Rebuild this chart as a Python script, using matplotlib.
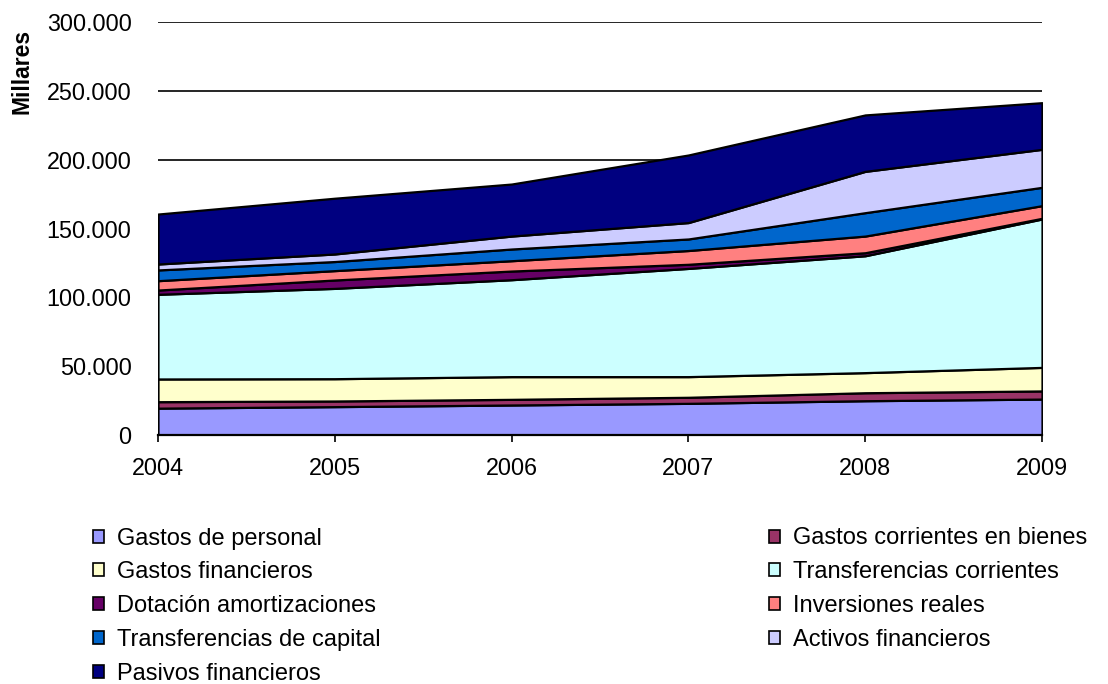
import matplotlib
matplotlib.use("Agg")
import matplotlib.pyplot as plt
from matplotlib.patches import Patch
from matplotlib.ticker import FuncFormatter, MultipleLocator

years = [2004, 2005, 2006, 2007, 2008, 2009]
series_names = [
    "Gastos de personal", "Gastos corrientes en bienes", "Gastos financieros",
    "Transferencias corrientes", "Dotación amortizaciones", "Inversiones reales",
    "Transferencias de capital", "Activos financieros", "Pasivos financieros",
]
gastos_personal = [19500, 20600, 21800, 23000, 24900, 26100]
gastos_bienes = [4700, 4100, 4100, 4400, 5800, 5900]
gastos_financieros = [16500, 16200, 16500, 15000, 14600, 17100]
transf_corrientes = [61500, 65600, 70400, 78600, 84900, 107800]
dotacion_amort = [3100, 6100, 6300, 3000, 2200, 500]
inversiones_reales = [6800, 6800, 7500, 10000, 12100, 9200]
transf_capital = [7800, 6600, 8500, 8400, 17000, 13300]
activos_financieros = [4300, 5500, 9400, 11900, 30000, 27600]
pasivos_financieros = [36300, 40500, 37800, 49100, 41000, 33900]

values = [gastos_personal, gastos_bienes, gastos_financieros, transf_corrientes,
          dotacion_amort, inversiones_reales, transf_capital, activos_financieros,
          pasivos_financieros]
colors = ["#9999FF", "#993366", "#FFFFCC", "#CCFFFF", "#660066",
          "#FF8080", "#0066CC", "#CCCCFF", "#000080"]

plt.rcParams['font.family'] = ['Liberation Sans', 'DejaVu Sans']

fig = plt.figure(figsize=(11.08, 6.84), dpi=100)
ax = fig.add_axes([158/1108, 1-435/684, (1042-158)/1108, (435-22)/684])

ax.stackplot(years, *values, colors=colors, edgecolor="black", linewidth=1.6, zorder=3)

ax.set_xlim(2004, 2009)
ax.set_ylim(0, 300000)
ax.yaxis.set_major_locator(MultipleLocator(50000))
ax.yaxis.set_major_formatter(FuncFormatter(lambda v, p: f"{int(v):,}".replace(",", ".")))
ax.set_xticks(years)
ax.grid(axis="y", color="black", linewidth=1.2, zorder=0)
ax.set_axisbelow(True)
for s in ["top", "right", "left"]:
    ax.spines[s].set_visible(False)
ax.spines["bottom"].set_linewidth(1.6)
ax.spines["bottom"].set_zorder(5)
ax.tick_params(axis="y", length=0, pad=19, labelsize=16.8)
ax.tick_params(axis="x", length=5, width=1.2, direction="out", pad=10.5, labelsize=16.8)

fig.text(22/1108, 1-71/684, "Millares", rotation=90, fontsize=16.5, fontweight="bold",
         ha="center", va="center")

handles = [Patch(facecolor=c, edgecolor="black", linewidth=1.2) for c in colors]
left_idx = [0, 2, 4, 6, 8]
right_idx = [1, 3, 5, 7]
common = dict(loc="upper left", frameon=False, fontsize=17, handlelength=0.47,
              handleheight=0.47, handletextpad=0.55, labelspacing=0.5,
              borderaxespad=0, borderpad=0)
leg1 = fig.legend([handles[i] for i in left_idx], [series_names[i] for i in left_idx],
                  bbox_to_anchor=(93/1108, 1-527.5/684), **common)
leg2 = fig.legend([handles[i] for i in right_idx], [series_names[i] for i in right_idx],
                  bbox_to_anchor=(769/1108, 1-527.5/684), **common)

fig.savefig("out.png", dpi=100)
